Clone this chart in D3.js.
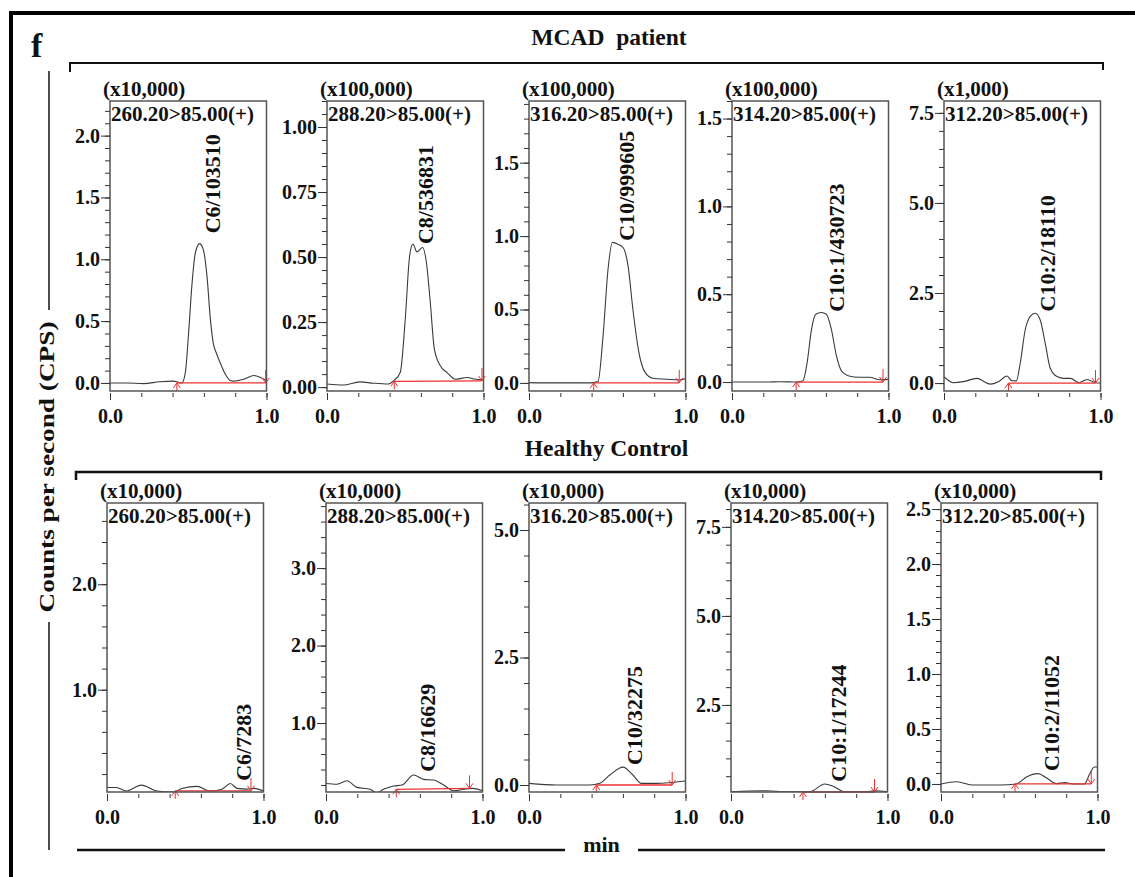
<!DOCTYPE html>
<html><head><meta charset="utf-8">
<script src="https://cdn.jsdelivr.net/npm/d3@7"></script>
<style>
body{margin:0;background:#fff}
text{font-family:"Liberation Serif","Times New Roman",serif;font-weight:bold;fill:#111}
.tick text{font-size:20px}
.hdr{font-size:21px}
.peak{font-size:22px}
</style>
</head><body><svg id="chart" width="1135" height="877"></svg>
<script>
// ---------------- DATA ----------------
const groupTitles = ["MCAD  patient", "Healthy Control"];
const channels = ["260.20>85.00(+)", "288.20>85.00(+)", "316.20>85.00(+)", "314.20>85.00(+)", "312.20>85.00(+)"];
const mcadMultipliers = ["(x10,000)", "(x100,000)", "(x100,000)", "(x100,000)", "(x1,000)"];
const hcMultipliers = ["(x10,000)", "(x10,000)", "(x10,000)", "(x10,000)", "(x10,000)"];
const mcadPeakLabels = ["C6/103510", "C8/536831", "C10/999605", "C10:1/430723", "C10:2/18110"];
const hcPeakLabels = ["C6/7283", "C8/16629", "C10/32275", "C10:1/17244", "C10:2/11052"];

const mcadYTicks = [[0, 0.5, 1.0, 1.5, 2.0], [0, 0.25, 0.5, 0.75, 1.0], [0, 0.5, 1.0, 1.5], [0, 0.5, 1.0, 1.5], [0, 2.5, 5.0, 7.5]];
const hcYTicks = [[1.0, 2.0], [1.0, 2.0, 3.0], [0, 2.5, 5.0], [2.5, 5.0, 7.5], [0, 0.5, 1.0, 1.5, 2.0, 2.5]];
const mcadYMinor = [0.1, 0.05, 0.1, 0.1, 0.5];
const hcYMinor = [0.2, 0.2, 0.5, 0.5, 0.1];
const mcadYFormat = [".1f", ".2f", ".1f", ".1f", ".1f"];
const hcYFormat = [".1f", ".1f", ".1f", ".1f", ".1f"];
const mcadYDomains = [[-0.065, 2.28], [-0.015, 1.10], [-0.055, 1.92], [-0.051, 1.60], [-0.22, 7.83]];
const hcYDomains = [[0.03, 2.77], [0.11, 3.84], [-0.137, 5.53], [0.056, 8.17], [-0.073, 2.555]];
const xTicksMinor = [0, 0.2, 0.4, 0.6, 0.8, 1.0];
const xTicksLabeled = [0, 1.0];
const xLabel = "min";
const yLabel = "Counts per second (CPS)";
const panelLetter = "f";

// chromatogram traces [time (min), intensity (in multiplier units)]
const mcadC6 = [[0,0],[0.107,0],[0.214,-0.005],[0.318,0.01],[0.404,0.015],[0.458,0.0],[0.481,0.08],[0.502,0.40],[0.524,0.80],[0.545,1.05],[0.573,1.127],[0.598,1.07],[0.62,0.86],[0.641,0.52],[0.66,0.32],[0.68,0.24],[0.705,0.16],[0.737,0.07],[0.769,0.02],[0.79,0.015],[0.855,0.03],[0.92,0.06],[0.962,0.045],[1.0,0.02]];
const mcadC8 = [[0,0.012],[0.105,0.008],[0.21,0.02],[0.297,0.015],[0.393,0.012],[0.425,0.024],[0.468,0.056],[0.5,0.26],[0.528,0.505],[0.549,0.55],[0.575,0.52],[0.611,0.537],[0.635,0.48],[0.66,0.326],[0.686,0.146],[0.724,0.082],[0.767,0.056],[0.82,0.03],[0.895,0.037],[0.949,0.03],[1.0,0.028]];
const mcadC10 = [[0,0.002],[0.176,0],[0.389,0],[0.441,0.01],[0.473,0.317],[0.505,0.774],[0.533,0.957],[0.569,0.945],[0.601,0.922],[0.633,0.797],[0.664,0.5],[0.703,0.203],[0.739,0.077],[0.792,0.032],[0.877,0.025],[0.962,0.02],[1.0,0.03]];
const mcadC10_1 = [[0,0],[0.22,0],[0.306,0.002],[0.412,0],[0.454,0.008],[0.48,0.11],[0.508,0.30],[0.535,0.386],[0.571,0.396],[0.603,0.386],[0.635,0.30],[0.667,0.15],[0.699,0.064],[0.741,0.036],[0.815,0.027],[0.879,0.027],[0.943,0.013],[1.0,0.015]];
const mcadC10_2 = [[0,0.176],[0.06,0.01],[0.124,0.04],[0.21,0.13],[0.295,-0.03],[0.348,0.04],[0.402,0.195],[0.434,0.064],[0.462,0.06],[0.487,0.55],[0.519,1.48],[0.551,1.85],[0.583,1.94],[0.615,1.75],[0.647,1.1],[0.679,0.41],[0.722,0.18],[0.765,0.13],[0.808,0.13],[0.861,0.01],[0.915,0.1],[0.968,0.01],[1.0,0.0]];
const hcC6 = [[0,0.073],[0.06,0.073],[0.124,0.04],[0.22,0.095],[0.317,0.04],[0.425,0.03],[0.479,0.064],[0.575,0.083],[0.66,0.04],[0.735,0.057],[0.788,0.11],[0.831,0.064],[0.895,0.057],[0.938,0.064],[1.0,0.04]];
const hcC8 = [[0,0.22],[0.07,0.21],[0.134,0.255],[0.197,0.17],[0.282,0.145],[0.325,0.10],[0.367,0.145],[0.432,0.187],[0.485,0.2],[0.56,0.33],[0.624,0.273],[0.688,0.265],[0.752,0.2],[0.816,0.126],[0.88,0.145],[0.934,0.157],[1.0,0.126]];
const hcC10 = [[0,0.033],[0.176,0],[0.389,0],[0.452,0.033],[0.516,0.196],[0.601,0.35],[0.664,0.196],[0.718,0.033],[0.813,0.033],[0.898,0.046],[1.0,0.078]];
const hcC10_1 = [[0,0.065],[0.227,0.093],[0.35,0.065],[0.503,0.065],[0.599,0.28],[0.652,0.22],[0.726,0.065],[0.864,0.065],[0.917,0.09],[1.0,0.065]];
const hcC10_2 = [[0,0],[0.1,0.02],[0.206,-0.01],[0.376,-0.01],[0.482,0],[0.546,0.064],[0.62,0.094],[0.673,0.057],[0.737,0.003],[0.79,0.012],[0.843,0],[0.917,0],[0.949,0.088],[0.98,0.155],[1.0,0.155]];

// integration baselines [start min, end min, start value, end value]
const mcadBaselines = [[0.427, 0.995, 0, 0], [0.43, 0.99, 0.022, 0.024], [0.414, 0.96, 0, 0], [0.41, 0.965, 0, 0], [0.412, 0.968, 0, 0]];
const hcBaselines = [[0.436, 0.92, 0.041, 0.041], [0.449, 0.917, 0.145, 0.157], [0.43, 0.915, 0, 0], [0.46, 0.917, 0.056, 0.056], [0.473, 0.96, 0, 0]];
// peak label anchors [min, value at label start]
const mcadPeakPos = [[0.654, 1.21], [0.628, 0.55], [0.622, 0.968], [0.667, 0.40], [0.658, 1.99]];
const hcPeakPos = [[0.872, 0.136], [0.649, 0.37], [0.675, 0.39], [0.683, 0.345], [0.705, 0.118]];

// ---------------- LAYOUT ----------------
const svg = d3.select("#chart");
const rows = [
  {top: 101, bottom: 391, lefts: [110, 327, 529, 732, 944], traces: [mcadC6, mcadC8, mcadC10, mcadC10_1, mcadC10_2],
   mult: mcadMultipliers, peaks: mcadPeakLabels, yTicks: mcadYTicks, yMinor: mcadYMinor, yFmt: mcadYFormat,
   yDom: mcadYDomains, base: mcadBaselines, peakPos: mcadPeakPos},
  {top: 503, bottom: 792, lefts: [107, 326, 529, 731, 941], traces: [hcC6, hcC8, hcC10, hcC10_1, hcC10_2],
   mult: hcMultipliers, peaks: hcPeakLabels, yTicks: hcYTicks, yMinor: hcYMinor, yFmt: hcYFormat,
   yDom: hcYDomains, base: hcBaselines, peakPos: hcPeakPos}
];
const W = 156.5;
const RED = "#ee3030";

// outer frame
svg.append("path").attr("d", "M11,877 V13 H1135").attr("fill", "none").attr("stroke", "#000").attr("stroke-width", 4);
svg.append("text").attr("x", 31).attr("y", 57).style("font-size", "34px").text(panelLetter);

// group titles and brackets
svg.append("text").attr("x", 609).attr("y", 45).attr("text-anchor", "middle").style("font-size", "23.5px").style("white-space", "pre").text(groupTitles[0]);
svg.append("path").attr("d", "M70,72 V63 H1103 V70").attr("fill", "none").attr("stroke", "#111").attr("stroke-width", 2);
svg.append("text").attr("x", 606.5).attr("y", 456).attr("text-anchor", "middle").style("font-size", "23.5px").text(groupTitles[1]);
svg.append("path").attr("d", "M76,480 V472 H1101 V480").attr("fill", "none").attr("stroke", "#111").attr("stroke-width", 2.5);

// y label with lines
svg.append("line").attr("x1", 49).attr("x2", 49).attr("y1", 71).attr("y2", 310).attr("stroke", "#111").attr("stroke-width", 1.5);
svg.append("line").attr("x1", 49).attr("x2", 49).attr("y1", 622).attr("y2", 850).attr("stroke", "#111").attr("stroke-width", 1.5);
svg.append("text").attr("transform", "translate(47,467) rotate(-90)").attr("text-anchor", "middle").attr("dy", "0.35em")
  .attr("textLength", 291).attr("lengthAdjust", "spacingAndGlyphs").style("font-size", "20px").text(yLabel);

// x label with lines
svg.append("line").attr("x1", 77).attr("x2", 565).attr("y1", 850).attr("y2", 850).attr("stroke", "#111").attr("stroke-width", 2.5);
svg.append("line").attr("x1", 638).attr("x2", 1105).attr("y1", 850).attr("y2", 850).attr("stroke", "#111").attr("stroke-width", 2.5);
svg.append("text").attr("x", 601.5).attr("y", 852).attr("text-anchor", "middle").style("font-size", "22px").text(xLabel);

function minorVals(dom, step) {
  const out = [];
  const start = Math.ceil(dom[0] / step - 1e-9);
  for (let k = start; k * step <= dom[1] + 1e-9; k++) out.push(+(k * step).toFixed(4));
  return out;
}

rows.forEach((row, ri) => {
  row.lefts.forEach((left, i) => {
    const g = svg.append("g");
    const x = d3.scaleLinear().domain([0, 1]).range([left, left + W]);
    const y = d3.scaleLinear().domain(row.yDom[i]).range([row.bottom, row.top]);
    const clipId = `clip-${ri}-${i}`;
    svg.append("clipPath").attr("id", clipId).append("rect")
      .attr("x", left).attr("y", row.top).attr("width", W).attr("height", row.bottom - row.top);

    // trace
    const line = d3.line().x(d => x(d[0])).y(d => y(d[1])).curve(d3.curveMonotoneX);
    g.append("path").datum(row.traces[i]).attr("d", line).attr("clip-path", `url(#${clipId})`)
      .attr("fill", "none").attr("stroke", "#3a3a3a").attr("stroke-width", 1.1);

    // integration baseline with markers
    const b = row.base[i];
    const xs = x(b[0]), ys = y(b[2]), xe = x(b[1]), ye = y(b[3]);
    g.append("line").attr("x1", xs).attr("y1", ys).attr("x2", xe).attr("y2", ye).attr("stroke", RED).attr("stroke-width", 1.3);
    g.append("line").attr("x1", xs).attr("y1", ys).attr("x2", xs).attr("y2", ys + 8).attr("stroke", RED).attr("stroke-width", 1);
    g.append("path").attr("d", `M${xs - 3.5},${ys + 5}L${xs},${ys}L${xs + 3.5},${ys + 5}`).attr("fill", "none").attr("stroke", RED).attr("stroke-width", 1);
    g.append("line").attr("x1", xe).attr("y1", ye - 13).attr("x2", xe).attr("y2", ye).attr("stroke", RED).attr("stroke-width", 1);
    g.append("path").attr("d", `M${xe - 3.5},${ye - 5}L${xe},${ye}L${xe + 3.5},${ye - 5}`).attr("fill", "none").attr("stroke", RED).attr("stroke-width", 1);

    // box
    g.append("rect").attr("x", left).attr("y", row.top).attr("width", W).attr("height", row.bottom - row.top)
      .attr("fill", "none").attr("stroke", "#555").attr("stroke-width", 1.5);

    // y axis minor
    const yMin = g.append("g").attr("transform", `translate(${left},0)`)
      .call(d3.axisLeft(y).tickValues(minorVals(row.yDom[i], row.yMinor[i])).tickSize(5).tickFormat(""));
    yMin.select(".domain").remove();
    // y axis major
    const yMaj = g.append("g").attr("transform", `translate(${left},0)`)
      .call(d3.axisLeft(y).tickValues(row.yTicks[i]).tickSize(9).tickPadding(1).tickFormat(d3.format(row.yFmt[i])));
    yMaj.select(".domain").remove();
    [yMin, yMaj].forEach(a => { a.attr("font-family", null).attr("font-size", null); a.selectAll("line").attr("stroke", "#333"); });

    // x axis
    const xMin = g.append("g").attr("transform", `translate(0,${row.bottom + 2})`)
      .call(d3.axisBottom(x).tickValues(xTicksMinor).tickSize(4).tickFormat(""));
    xMin.select(".domain").remove();
    const xMaj = g.append("g").attr("transform", `translate(0,${row.bottom + 2})`)
      .call(d3.axisBottom(x).tickValues(xTicksLabeled).tickSize(7).tickPadding(9).tickFormat(d3.format(".1f")));
    xMaj.select(".domain").remove();
    [xMin, xMaj].forEach(a => { a.attr("font-family", null).attr("font-size", null); a.selectAll("line").attr("stroke", "#333"); });

    // headers
    g.append("text").attr("class", "hdr").attr("x", left - 7).attr("y", row.top - 5).text(row.mult[i]);
    g.append("text").attr("class", "hdr").attr("x", left + 1).attr("y", row.top + 20).text(channels[i]);

    // peak label
    const p = row.peakPos[i];
    g.append("text").attr("class", "peak")
      .attr("transform", `translate(${x(p[0])},${y(p[1])}) rotate(-90)`).attr("dy", "0.35em").text(row.peaks[i]);
  });
});
</script></body></html>
